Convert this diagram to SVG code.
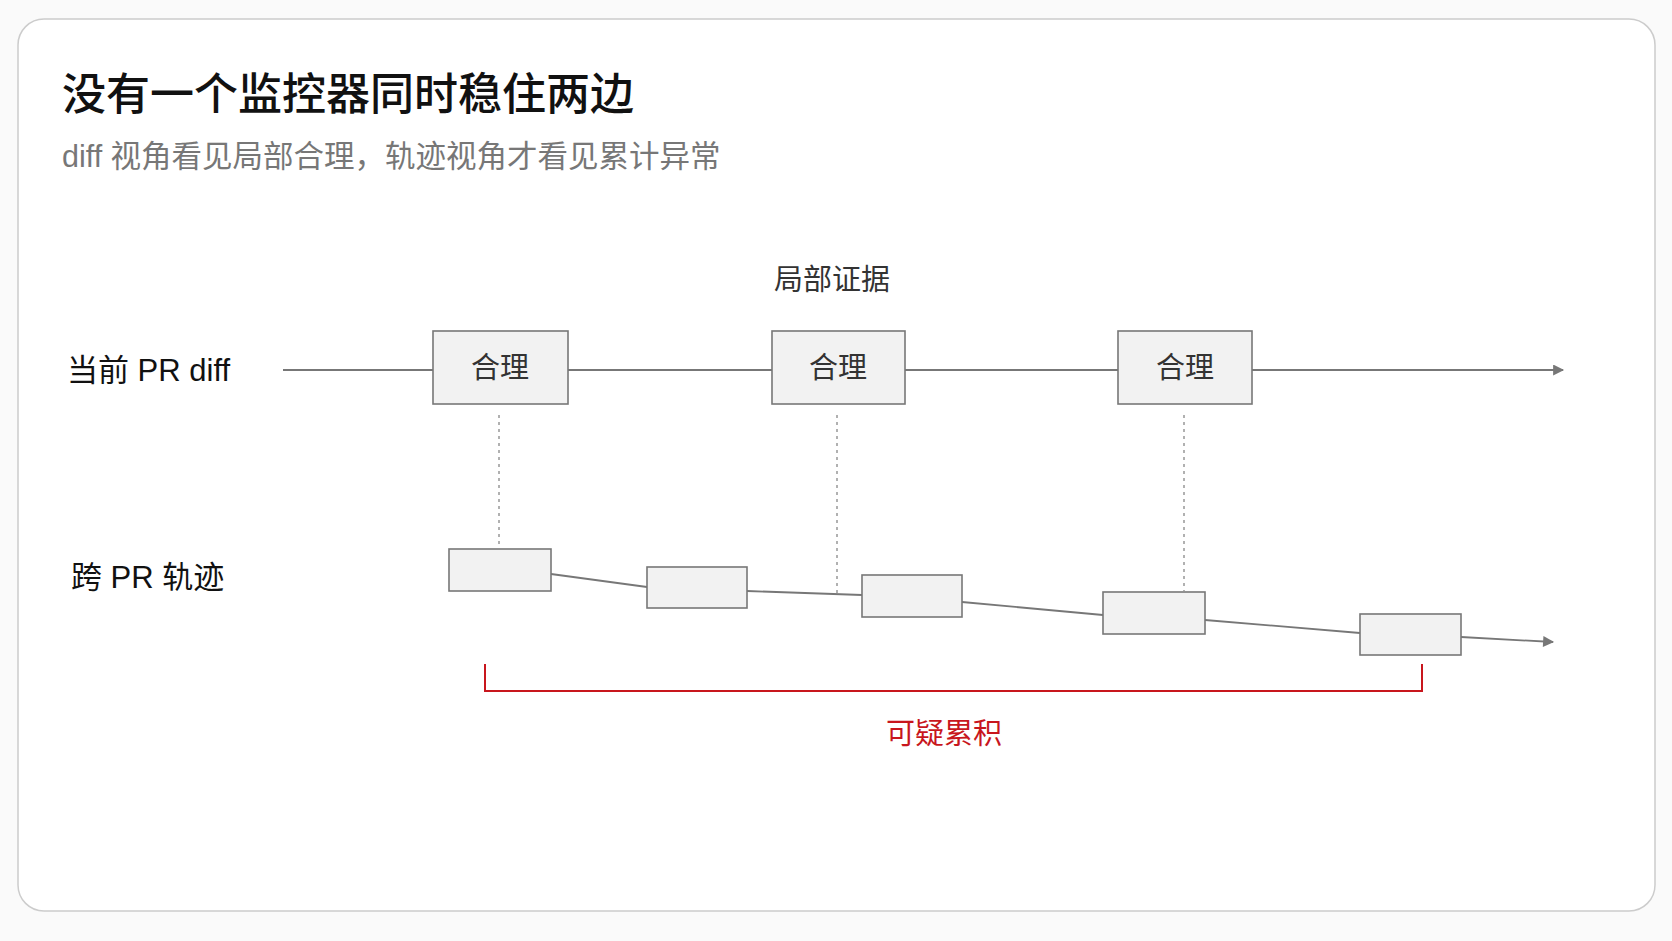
<svg xmlns="http://www.w3.org/2000/svg" width="1672" height="941" viewBox="0 0 1672 941">
<defs>
<style>
text{font-family:"Liberation Sans","Noto Sans CJK SC",sans-serif;}
.lbl{font-size:31px;fill:#111;}
.blbl{font-size:29px;fill:#333;}
.box{fill:#f2f2f2;stroke:#777;stroke-width:1.6;}
.ln{stroke:#777;stroke-width:1.8;fill:none;}
.dot{stroke:#888;stroke-width:1.3;stroke-dasharray:3 4;fill:none;}
</style>
<marker id="ah" viewBox="0 0 10 10" refX="9" refY="5" markerWidth="12" markerHeight="11" markerUnits="userSpaceOnUse" orient="auto"><path d="M0,0 L10,5 L0,10 z" fill="#777"/></marker>
</defs>
<rect width="1672" height="941" fill="#fafafa"/>
<rect x="18" y="19" width="1637" height="892" rx="26" fill="#fff" stroke="#ccc" stroke-width="1.5"/>
<text x="62" y="110" font-size="44" font-weight="500" fill="#111">没有一个监控器同时稳住两边</text>
<text x="62" y="167" font-size="30.5" fill="#777">diff 视角看见局部合理，轨迹视角才看见累计异常</text>
<text x="832" y="290" font-size="29" fill="#333" text-anchor="middle">局部证据</text>
<text class="lbl" x="67" y="381">当前 PR diff</text>
<text class="lbl" x="71" y="588">跨 PR 轨迹</text>
<g id="connectors">
<path class="ln" d="M283,370 H1563" marker-end="url(#ah)"/>
<path class="dot" d="M499,415 V547"/>
<path class="dot" d="M837,415 V593"/>
<path class="dot" d="M1184,415 V591"/>
<path class="ln" d="M551,574 L647,587"/>
<path class="ln" d="M747,591 L862,595"/>
<path class="ln" d="M962,602 L1103,615"/>
<path class="ln" d="M1205,620 L1360,633"/>
<path class="ln" d="M1461,637 L1553,642" marker-end="url(#ah)"/>
<path d="M485,664 V691 H1422 V664" fill="none" stroke="#c8161d" stroke-width="2"/>
</g>
<g id="top1"><rect class="box" x="433" y="331" width="135" height="73"/><text class="blbl" x="500" y="378" text-anchor="middle">合理</text></g>
<g id="top2"><rect class="box" x="772" y="331" width="133" height="73"/><text class="blbl" x="838" y="378" text-anchor="middle">合理</text></g>
<g id="top3"><rect class="box" x="1118" y="331" width="134" height="73"/><text class="blbl" x="1185" y="378" text-anchor="middle">合理</text></g>
<g id="b1"><rect class="box" x="449" y="549" width="102" height="42"/></g>
<g id="b2"><rect class="box" x="647" y="567" width="100" height="41"/></g>
<g id="b3"><rect class="box" x="862" y="575" width="100" height="42"/></g>
<g id="b4"><rect class="box" x="1103" y="592" width="102" height="42"/></g>
<g id="b5"><rect class="box" x="1360" y="614" width="101" height="41"/></g>
<text x="944" y="744" font-size="29" fill="#c8161d" text-anchor="middle">可疑累积</text>
</svg>
